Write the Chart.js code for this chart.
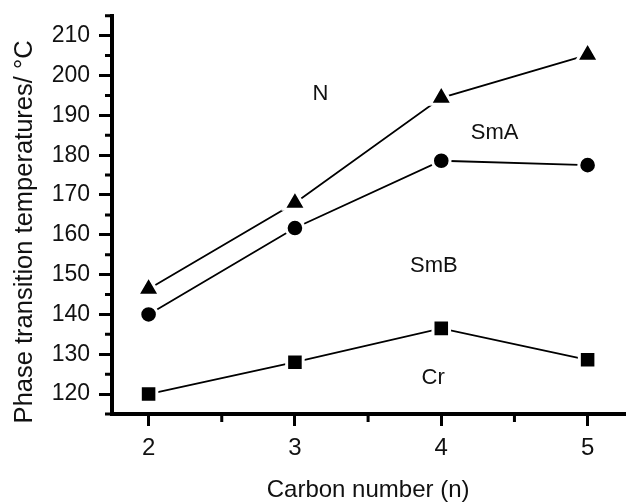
<!DOCTYPE html>
<html>
<head>
<meta charset="utf-8">
<title>Phase transition temperatures vs carbon number</title>
<script src="https://cdn.jsdelivr.net/npm/chart.js@4/dist/chart.umd.min.js"></script>
<style>
  body { margin: 0; background: #fff; }
  #wrap { width: 640px; height: 502px; position: relative; }
</style>
</head>
<body>
<div id="wrap"><canvas id="chart"></canvas></div>
<script>
// carbon number of the chain
const carbonNumbers = [2, 3, 4, 5];
// transition temperatures in °C
const smAtoN = [146.4, 168.0, 194.4, 205.2];   // triangles
const smBtoSmA = [140.0, 161.7, 178.6, 177.5]; // circles
const crToSmB = [120.0, 128.0, 136.5, 128.6];  // squares

const xTicks = [2, 3, 4, 5];
const xMinorTicks = [2.5, 3.5, 4.5];
const yTicks = [120, 130, 140, 150, 160, 170, 180, 190, 200, 210];
const yMinorTicks = [115, 125, 135, 145, 155, 165, 175, 185, 195, 205, 215];

// phase names written inside the regions (anchored in data units)
const phaseNames = ['N', 'SmA', 'SmB', 'Cr'];
const phaseX = [3.175, 4.365, 3.95, 3.945];
const phaseY = [195.4, 185.6, 152.2, 124.0];

const FONT = "'Liberation Sans', Arial, sans-serif";
const INK = '#111';

function toPoints(values) {
    return carbonNumbers.map((n, i) => ({ x: n, y: values[i] }));
}

function series(values, style, radius) {
    return {
        data: toPoints(values),
        borderColor: '#000',
        borderWidth: 1.8,
        tension: 0,
        fill: false,
        pointStyle: style,
        pointRadius: radius,
        pointHoverRadius: radius,
        pointBackgroundColor: '#000',
        pointBorderColor: '#fff', // white rim leaves a small gap between line and marker
        pointBorderWidth: 3
    };
}

// fixed axis box, no extra room for the end labels
function fixBox(size) {
    return s => {
        if (s.isHorizontal()) s.height = size; else s.width = size;
        s.paddingTop = 0;
        s.paddingBottom = 0;
        s.paddingLeft = 0;
        s.paddingRight = 0;
    };
}

// minor ticks, phase labels and the y title
const extras = {
    id: 'extras',
    afterDraw(chart) {
        const ctx = chart.ctx;
        const xs = chart.scales.x;
        const ys = chart.scales.y;
        ctx.save();
        ctx.strokeStyle = '#000';
        ctx.lineWidth = 3;
        ctx.beginPath();
        yMinorTicks.forEach(v => {
            const py = ys.getPixelForValue(v);
            ctx.moveTo(xs.left - 7, py);
            ctx.lineTo(xs.left, py);
        });
        xMinorTicks.forEach(v => {
            const px = xs.getPixelForValue(v);
            ctx.moveTo(px, ys.bottom);
            ctx.lineTo(px, ys.bottom + 8);
        });
        ctx.stroke();

        ctx.fillStyle = INK;
        ctx.font = '22px ' + FONT;
        ctx.textAlign = 'center';
        ctx.textBaseline = 'middle';
        phaseNames.forEach((t, i) => {
            ctx.fillText(t, xs.getPixelForValue(phaseX[i]), ys.getPixelForValue(phaseY[i]));
        });

        ctx.translate(32, (ys.top + ys.bottom) / 2 + 17);
        ctx.rotate(-Math.PI / 2);
        ctx.textBaseline = 'alphabetic';
        ctx.font = '25.5px ' + FONT;
        ctx.fillText('Phase transition temperatures/ °C', 0, 0);
        ctx.restore();
    }
};

Chart.defaults.font.family = FONT;
Chart.defaults.color = INK;

const ctx = document.getElementById('chart').getContext('2d');
const chart = new Chart(ctx, {
    type: 'line',
    data: {
        datasets: [
            series(smAtoN, 'triangle', 12.8),
            series(smBtoSmA, 'circle', 8.8),
            series(crToSmB, 'rect', 11.7)
        ]
    },
    options: {
        responsive: true,
        maintainAspectRatio: false,
        animation: false,
        layout: { padding: { top: 13, right: 0, bottom: 0, left: 0 } },
        plugins: {
            legend: { display: false },
            tooltip: { enabled: false }
        },
        scales: {
            x: {
                type: 'linear',
                min: 1.75,
                max: 5.25,
                afterBuildTicks: s => { s.ticks = xTicks.map(v => ({ value: v })); },
                afterFit: fixBox(88),
                border: { color: '#000', width: 4 },
                grid: { drawOnChartArea: false, tickLength: 12, tickWidth: 3, lineWidth: 3, tickColor: '#000' },
                ticks: { color: INK, font: { size: 24 }, padding: 8, maxRotation: 0 },
                title: {
                    display: true,
                    text: 'Carbon number (n)',
                    color: INK,
                    font: { size: 24, lineHeight: 1 },
                    padding: 0
                }
            },
            y: {
                type: 'linear',
                min: 115,
                max: 215,
                afterBuildTicks: s => { s.ticks = yTicks.map(v => ({ value: v })); },
                afterFit: fixBox(112),
                border: { color: '#000', width: 4 },
                grid: { drawOnChartArea: false, tickLength: 13, tickWidth: 3, lineWidth: 3, tickColor: '#000' },
                ticks: { color: INK, font: { size: 23 }, padding: 9 }
            }
        }
    },
    plugins: [extras]
});
</script>
</body>
</html>
